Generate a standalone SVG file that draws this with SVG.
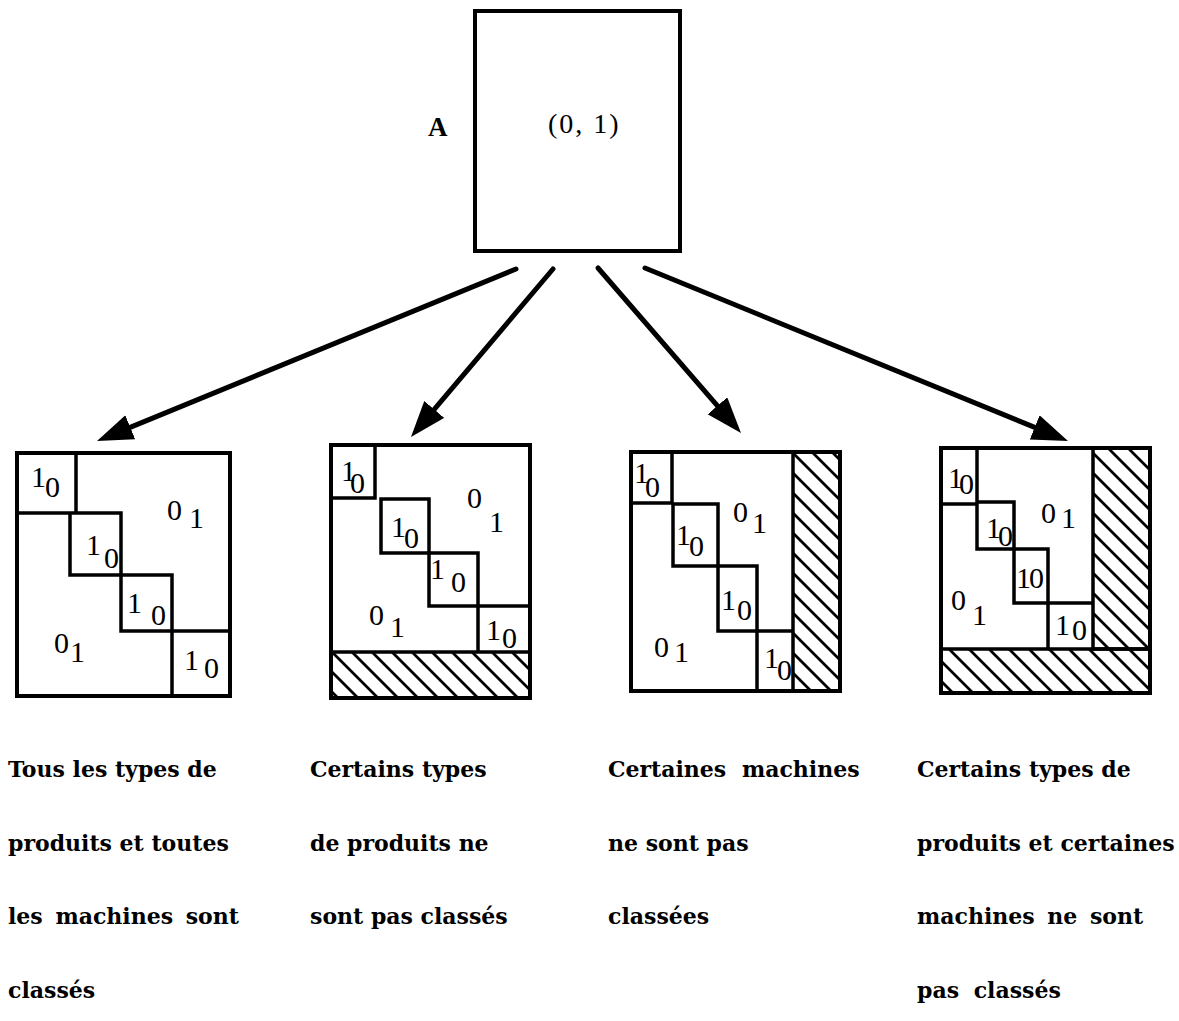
<svg xmlns="http://www.w3.org/2000/svg" width="1179" height="1021" viewBox="0 0 1179 1021">
<style>
.box{fill:none;stroke:#000;stroke-width:4}
.cell{fill:none;stroke:#000;stroke-width:3.5}
.d{font-family:"Liberation Serif","DejaVu Serif",serif;font-size:30px;fill:#000}
.cap{font-family:"DejaVu Serif","Liberation Serif",serif;font-weight:bold;font-size:22px;fill:#000}
.lbl{font-family:"Liberation Serif","DejaVu Serif",serif;fill:#000}
.conn{stroke:#000;stroke-width:5;fill:none;stroke-linecap:round}
.hatch{fill:url(#hatch);stroke:#000;stroke-width:3.5}
</style>
<defs>
<pattern id="hatch" patternUnits="userSpaceOnUse" width="20" height="20">
<path d="M0,0 L20,20 M-10,10 L10,30 M10,-10 L30,10" stroke="#000" stroke-width="2.8"/>
</pattern>
<marker id="arr" markerUnits="userSpaceOnUse" markerWidth="38" markerHeight="28" refX="16" refY="13" orient="auto">
<path d="M0,0 L36,13 L0,26 z" fill="#000"/>
</marker>
</defs>
<rect width="1179" height="1021" fill="#fff"/>

<g id="node-A">
<rect class="box" x="475" y="11" width="205" height="240"/>
<text class="lbl" x="428" y="136" font-size="27" font-weight="bold">A</text>
<text class="lbl" x="548" y="133" font-size="28" letter-spacing="2">(0, 1)</text>
</g>

<g id="connectors">
<path class="conn" d="M516,269 L115.5,433.4" marker-end="url(#arr)"/>
<path class="conn" d="M553,269 L423.9,421.7" marker-end="url(#arr)"/>
<path class="conn" d="M598,268 L727.9,417.9" marker-end="url(#arr)"/>
<path class="conn" d="M645,268 L1049.5,433.4" marker-end="url(#arr)"/>
</g>

<g id="node-1">
<rect class="box" x="17" y="453" width="213" height="243"/>
<path class="cell" d="M17,513 H76 V453 M70,513 H121 V575 H70 Z M121,575 H172 V631 H121 Z M172,631 H230 M172,631 V696"/>
<text class="d" x="31" y="487">1</text><text class="d" x="45" y="497">0</text>
<text class="d" x="167" y="520">0</text><text class="d" x="189" y="528">1</text>
<text class="d" x="86" y="555">1</text><text class="d" x="104" y="568">0</text>
<text class="d" x="127" y="613">1</text><text class="d" x="151" y="625">0</text>
<text class="d" x="54" y="653">0</text><text class="d" x="70" y="662">1</text>
<text class="d" x="184" y="670">1</text><text class="d" x="204" y="678">0</text>
<text class="cap" x="8" y="777">Tous les types de</text>
<text class="cap" x="8" y="851">produits et toutes</text>
<text class="cap" x="8" y="924" word-spacing="5">les machines sont</text>
<text class="cap" x="8" y="998">classés</text>
</g>

<g id="node-2">
<rect class="hatch" x="331" y="652" width="199" height="46"/>
<rect class="box" x="331" y="445" width="199" height="253"/>
<path class="cell" d="M331,498 H375 V445 M381,499 H429 V553 H381 Z M429,553 H478 V606 H429 Z M478,606 H530 M478,606 V652"/>
<text class="d" x="341" y="481">1</text><text class="d" x="350" y="493">0</text>
<text class="d" x="467" y="508">0</text><text class="d" x="489" y="532">1</text>
<text class="d" x="391" y="537">1</text><text class="d" x="404" y="548">0</text>
<text class="d" x="430" y="579">1</text><text class="d" x="451" y="592">0</text>
<text class="d" x="369" y="625">0</text><text class="d" x="390" y="637">1</text>
<text class="d" x="486" y="640">1</text><text class="d" x="502" y="648">0</text>
<text class="cap" x="310" y="777">Certains types</text>
<text class="cap" x="310" y="851">de produits ne</text>
<text class="cap" x="310" y="924">sont pas classés</text>
</g>

<g id="node-3">
<rect class="hatch" x="793" y="452" width="47" height="239"/>
<rect class="box" x="631" y="452" width="209" height="239"/>
<path class="cell" d="M631,503 H672 V452 M673,504 H718 V566 H673 Z M718,566 H757 V631 H718 Z M757,631 H793 M757,631 V691"/>
<text class="d" x="634" y="483">1</text><text class="d" x="645" y="497">0</text>
<text class="d" x="733" y="522">0</text><text class="d" x="752" y="533">1</text>
<text class="d" x="676" y="545">1</text><text class="d" x="689" y="556">0</text>
<text class="d" x="721" y="610">1</text><text class="d" x="737" y="620">0</text>
<text class="d" x="654" y="657">0</text><text class="d" x="674" y="662">1</text>
<text class="d" x="764" y="668">1</text><text class="d" x="777" y="680">0</text>
<text class="cap" x="608" y="777" word-spacing="8">Certaines machines</text>
<text class="cap" x="608" y="851">ne sont pas</text>
<text class="cap" x="608" y="924">classées</text>
</g>

<g id="node-4">
<rect class="hatch" x="941" y="649" width="209" height="44"/>
<rect class="hatch" x="1093" y="448" width="57" height="201"/>
<rect class="box" x="941" y="448" width="209" height="245"/>
<path class="cell" d="M941,504 H977 V448 M977,502 H1014 V549 H977 Z M1014,549 H1048 V603 H1014 Z M1048,603 H1093 M1048,603 V649"/>
<text class="d" x="948" y="488">1</text><text class="d" x="959" y="494">0</text>
<text class="d" x="1041" y="523">0</text><text class="d" x="1061" y="528">1</text>
<text class="d" x="986" y="538">1</text><text class="d" x="998" y="546">0</text>
<text class="d" x="1016" y="588">1</text><text class="d" x="1029" y="588">0</text>
<text class="d" x="951" y="610">0</text><text class="d" x="972" y="625">1</text>
<text class="d" x="1055" y="635">1</text><text class="d" x="1072" y="640">0</text>
<text class="cap" x="917" y="777">Certains types de</text>
<text class="cap" x="917" y="851">produits et certaines</text>
<text class="cap" x="917" y="924" word-spacing="5">machines ne sont</text>
<text class="cap" x="917" y="998" word-spacing="7">pas classés</text>
</g>
</svg>
